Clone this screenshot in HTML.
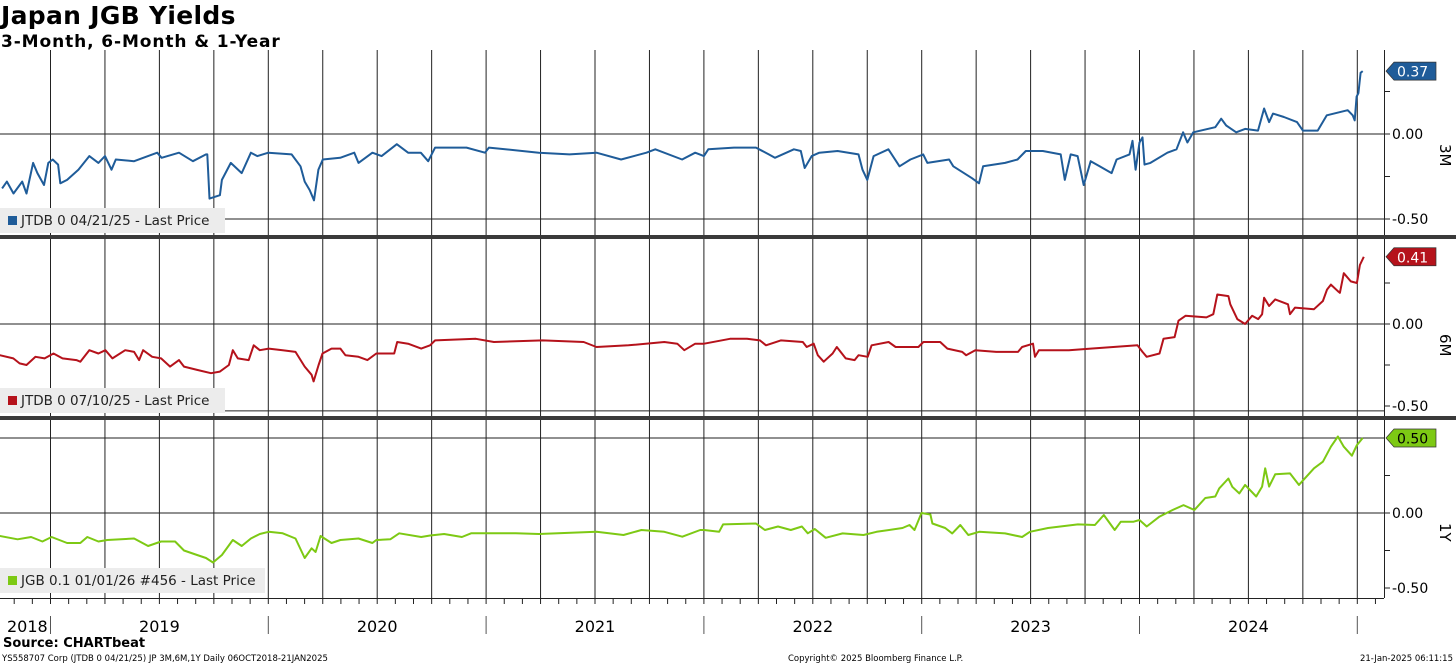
<!DOCTYPE html>
<html><head><meta charset="utf-8"><style>
html,body{margin:0;padding:0;background:#fff;}
body{width:1456px;height:665px;overflow:hidden;position:relative;font-family:"DejaVu Sans","Liberation Sans",sans-serif;}
#title{position:absolute;left:1px;top:1px;font-weight:bold;font-size:25px;letter-spacing:0.3px;}
#subtitle{position:absolute;left:1px;top:32px;font-weight:bold;font-size:17px;letter-spacing:0.9px;}
svg{position:absolute;left:0;top:0;}
</style></head><body>
<div id="title">Japan JGB Yields</div>
<div id="subtitle">3-Month, 6-Month &amp; 1-Year</div>
<svg id="chart" width="1456" height="665"></svg>
<script>
const yearLabels=["2018","2019","2020","2021","2022","2023","2024"];
const yTickLabels=["0.00","-0.50"];
const t3m=[2018.778,2018.80,2018.83,2018.87,2018.89,2018.92,2018.94,2018.97,2018.99,2019.01,2019.035,2019.045,2019.076,2019.128,2019.178,2019.22,2019.25,2019.28,2019.30,2019.384,2019.49,2019.51,2019.59,2019.654,2019.714,2019.72,2019.73,2019.778,2019.787,2019.828,2019.878,2019.92,2019.95,2020.00,2020.107,2020.148,2020.167,2020.19,2020.21,2020.23,2020.25,2020.33,2020.395,2020.414,2020.478,2020.52,2020.59,2020.642,2020.70,2020.734,2020.766,2020.91,2020.995,2021.013,2021.242,2021.383,2021.507,2021.62,2021.736,2021.777,2021.90,2021.96,2022.00,2022.02,2022.138,2022.239,2022.298,2022.326,2022.413,2022.445,2022.463,2022.495,2022.53,2022.614,2022.71,2022.728,2022.75,2022.779,2022.847,2022.898,2022.948,2023.007,2023.026,2023.126,2023.145,2023.231,2023.263,2023.282,2023.383,2023.44,2023.478,2023.556,2023.638,2023.657,2023.684,2023.716,2023.744,2023.776,2023.817,2023.872,2023.895,2023.954,2023.968,2023.982,2024.00,2024.014,2024.023,2024.05,2024.128,2024.17,2024.20,2024.22,2024.247,2024.348,2024.375,2024.398,2024.444,2024.485,2024.544,2024.572,2024.595,2024.613,2024.663,2024.723,2024.75,2024.818,2024.86,2024.956,2024.979,2024.988,2024.997,2025.005,2025.015,2025.025];
const v3m=[-0.32,-0.28,-0.35,-0.28,-0.35,-0.17,-0.23,-0.30,-0.17,-0.15,-0.18,-0.29,-0.27,-0.21,-0.13,-0.17,-0.13,-0.21,-0.15,-0.16,-0.11,-0.14,-0.11,-0.16,-0.12,-0.12,-0.38,-0.36,-0.27,-0.17,-0.23,-0.11,-0.13,-0.11,-0.12,-0.19,-0.28,-0.33,-0.39,-0.21,-0.15,-0.14,-0.11,-0.17,-0.11,-0.13,-0.06,-0.11,-0.11,-0.16,-0.08,-0.08,-0.11,-0.08,-0.11,-0.12,-0.11,-0.15,-0.11,-0.09,-0.15,-0.11,-0.13,-0.09,-0.08,-0.08,-0.12,-0.14,-0.09,-0.10,-0.20,-0.13,-0.11,-0.10,-0.12,-0.21,-0.27,-0.13,-0.09,-0.19,-0.15,-0.12,-0.17,-0.15,-0.19,-0.26,-0.29,-0.19,-0.17,-0.15,-0.10,-0.10,-0.12,-0.27,-0.12,-0.13,-0.30,-0.16,-0.19,-0.23,-0.15,-0.12,-0.04,-0.21,-0.05,-0.02,-0.18,-0.17,-0.11,-0.09,0.01,-0.05,0.01,0.04,0.09,0.05,0.01,0.03,0.02,0.15,0.07,0.12,0.10,0.07,0.02,0.02,0.11,0.14,0.11,0.08,0.22,0.24,0.36,0.37];
const t6m=[2018.767,2018.829,2018.858,2018.89,2018.931,2018.973,2019.014,2019.055,2019.119,2019.137,2019.178,2019.22,2019.252,2019.284,2019.343,2019.384,2019.407,2019.425,2019.467,2019.508,2019.549,2019.59,2019.613,2019.673,2019.737,2019.778,2019.819,2019.837,2019.86,2019.91,2019.933,2019.961,2020.002,2020.066,2020.125,2020.167,2020.199,2020.208,2020.231,2020.249,2020.29,2020.331,2020.354,2020.414,2020.455,2020.496,2020.578,2020.592,2020.642,2020.702,2020.743,2020.766,2020.953,2021.036,2021.26,2021.448,2021.507,2021.654,2021.818,2021.878,2021.91,2021.96,2022.001,2022.12,2022.198,2022.257,2022.285,2022.353,2022.454,2022.472,2022.504,2022.523,2022.55,2022.591,2022.61,2022.651,2022.692,2022.71,2022.752,2022.77,2022.848,2022.88,2022.985,2023.008,2023.085,2023.118,2023.186,2023.204,2023.246,2023.342,2023.442,2023.461,2023.511,2023.52,2023.538,2023.676,2023.776,2023.991,2024.014,2024.033,2024.092,2024.11,2024.161,2024.179,2024.211,2024.307,2024.339,2024.357,2024.408,2024.417,2024.449,2024.485,2024.517,2024.545,2024.563,2024.572,2024.595,2024.623,2024.682,2024.691,2024.714,2024.801,2024.842,2024.861,2024.879,2024.911,2024.92,2024.938,2024.97,2024.998,2025.012,2025.03];
const v6m=[-0.19,-0.21,-0.24,-0.25,-0.20,-0.21,-0.18,-0.21,-0.22,-0.23,-0.16,-0.18,-0.16,-0.21,-0.16,-0.17,-0.22,-0.16,-0.20,-0.21,-0.26,-0.22,-0.26,-0.28,-0.30,-0.29,-0.25,-0.16,-0.21,-0.22,-0.13,-0.16,-0.15,-0.16,-0.17,-0.26,-0.31,-0.35,-0.25,-0.18,-0.15,-0.15,-0.19,-0.20,-0.22,-0.18,-0.18,-0.11,-0.12,-0.15,-0.13,-0.10,-0.09,-0.11,-0.10,-0.11,-0.14,-0.13,-0.11,-0.12,-0.16,-0.12,-0.12,-0.09,-0.09,-0.10,-0.13,-0.10,-0.11,-0.14,-0.12,-0.19,-0.23,-0.18,-0.14,-0.21,-0.22,-0.19,-0.20,-0.13,-0.11,-0.14,-0.14,-0.11,-0.11,-0.15,-0.17,-0.19,-0.16,-0.17,-0.17,-0.14,-0.12,-0.20,-0.16,-0.16,-0.15,-0.13,-0.17,-0.20,-0.18,-0.09,-0.08,0.02,0.05,0.04,0.06,0.18,0.17,0.12,0.03,0.00,0.05,0.03,0.06,0.16,0.11,0.15,0.12,0.06,0.10,0.09,0.14,0.21,0.24,0.20,0.19,0.31,0.26,0.25,0.36,0.41];
const t1y=[2018.767,2018.849,2018.911,2018.963,2019.005,2019.076,2019.137,2019.169,2019.22,2019.261,2019.384,2019.448,2019.508,2019.572,2019.613,2019.673,2019.714,2019.746,2019.787,2019.837,2019.878,2019.92,2019.961,2020.002,2020.066,2020.125,2020.167,2020.199,2020.217,2020.24,2020.29,2020.331,2020.414,2020.478,2020.496,2020.56,2020.601,2020.702,2020.743,2020.807,2020.889,2020.931,2021.036,2021.137,2021.242,2021.507,2021.631,2021.713,2021.818,2021.901,2021.983,2022.001,2022.07,2022.088,2022.239,2022.28,2022.34,2022.399,2022.45,2022.477,2022.509,2022.559,2022.637,2022.733,2022.793,2022.912,2022.944,2022.967,2022.999,2023.04,2023.049,2023.108,2023.14,2023.177,2023.214,2023.264,2023.383,2023.461,2023.497,2023.58,2023.717,2023.795,2023.836,2023.886,2023.914,2023.973,2024.0,2024.033,2024.092,2024.152,2024.202,2024.252,2024.302,2024.348,2024.366,2024.408,2024.426,2024.458,2024.485,2024.536,2024.563,2024.577,2024.595,2024.623,2024.691,2024.732,2024.801,2024.842,2024.879,2024.911,2024.938,2024.975,2024.998,2025.025];
const v1y=[-0.153,-0.175,-0.16,-0.19,-0.16,-0.20,-0.20,-0.16,-0.19,-0.18,-0.17,-0.22,-0.19,-0.19,-0.25,-0.28,-0.30,-0.33,-0.28,-0.18,-0.22,-0.17,-0.14,-0.125,-0.135,-0.17,-0.30,-0.235,-0.26,-0.153,-0.20,-0.18,-0.17,-0.20,-0.18,-0.175,-0.135,-0.16,-0.15,-0.14,-0.16,-0.135,-0.135,-0.135,-0.14,-0.125,-0.147,-0.113,-0.125,-0.158,-0.113,-0.113,-0.125,-0.076,-0.07,-0.113,-0.09,-0.113,-0.09,-0.135,-0.107,-0.165,-0.136,-0.147,-0.125,-0.10,-0.08,-0.113,0.0,-0.01,-0.07,-0.10,-0.136,-0.08,-0.147,-0.125,-0.136,-0.16,-0.125,-0.10,-0.076,-0.08,-0.013,-0.113,-0.058,-0.058,-0.047,-0.09,-0.024,0.02,0.053,0.02,0.10,0.11,0.164,0.23,0.175,0.131,0.187,0.11,0.176,0.298,0.176,0.258,0.264,0.187,0.298,0.342,0.442,0.51,0.442,0.382,0.453,0.50];

const NS="http://www.w3.org/2000/svg";
const svg=document.getElementById('chart');
function X(t){return 50.5+(t-2019)*217.8;}
const panels=[
 {y0:134,k:170,top:50,bot:235,t:t3m,v:v3m,color:"#1f5c99",tag:"0.37",label:"3M",legend:"JTDB 0 04/21/25 - Last Price",lw:225,ly:208,grid:[0,-0.5],name:"3m"},
 {y0:324,k:164,top:239,bot:416,t:t6m,v:v6m,color:"#b5121b",tag:"0.41",label:"6M",legend:"JTDB 0 07/10/25 - Last Price",lw:225,ly:388,grid:[0,-0.53],name:"6m"},
 {y0:513,k:150,top:420,bot:598,t:t1y,v:v1y,color:"#7dc914",tag:"0.50",label:"1Y",legend:"JGB 0.1 01/01/26 #456 - Last Price",lw:265,ly:568,grid:[0.5,0],name:"1y"}
];
function el(tag,attrs,parent){const e=document.createElementNS(NS,tag);for(const k in attrs)e.setAttribute(k,attrs[k]);(parent||svg).appendChild(e);return e;}
for(let q=0;q<=24;q++){const x=X(2019+q*0.25);
 for(const p of panels){const l=el('line',{x1:x,x2:x,y1:p.top,y2:p.bot,stroke:"#222","stroke-width":1});
 
 }}
panels.forEach(p=>{
 const g=el('g',{});
 
 
 const Y=v=>p.y0-v*p.k;
 p.grid.forEach(v=>{const l=el('line',{x1:0,x2:1384,y1:Y(v),y2:Y(v),stroke:"#222","stroke-width":1},g);
  
  });
 const ax=el('line',{x1:1384.5,x2:1384.5,y1:p.top,y2:p.bot,stroke:"#222","stroke-width":1},g);
 
 
 [0.25,0,-0.25,-0.5].forEach(v=>{const yy=Y(v);if(yy<p.top||yy>p.bot+2)return;
  const tk=el('line',{x1:1384,x2:1390,y1:yy,y2:yy,stroke:"#222"},g);
  
  });
 yTickLabels.forEach(s=>{const v=parseFloat(s);const tx=el('text',{x:1392,y:Y(v)+5,"font-size":14,fill:"#000"},g);
  tx.textContent=s;
  
  });
 let d="";p.t.forEach((t,i)=>{d+=(i?"L":"M")+X(t).toFixed(1)+" "+Y(p.v[i]).toFixed(1);});
 const path=el('path',{d:d,fill:"none",stroke:p.color,"stroke-width":2,"stroke-linejoin":"round"},g);
 
 
 const ty=Y(parseFloat(p.tag));
 const tg=el('path',{d:`M1386 ${ty} L1394 ${ty-9} L1436 ${ty-9} L1436 ${ty+9} L1394 ${ty+9} Z`,fill:p.color,stroke:"#333","stroke-width":0.7},g);
 
 
 const tt=el('text',{x:1397,y:ty+5.5,"font-size":14,fill:p.name==="1y"?"#000":"#fff"},g);
 tt.textContent=p.tag;
 
 
 const ly=Y(0)+10;
 const lb=el('text',{x:1440,y:ly,"font-size":15,fill:"#000",transform:`rotate(90 1440 ${ly})`},g);
 lb.textContent=p.label;
 
 
 const lr=el('rect',{x:0,y:p.ly,width:p.lw,height:25,fill:"#ececec"},g);
 
 
 const sq=el('rect',{x:8,y:p.ly+8,width:9,height:9,fill:p.color},g);
 
 
 const lt=el('text',{x:21,y:p.ly+17,"font-size":13.5,fill:"#222"},g);
 lt.textContent=p.legend;
 
 
});
[237,418].forEach(y=>{const r=el('rect',{x:0,y:y-2,width:1456,height:4,fill:"#3a3a3a"});
 
 });
const bx=el('line',{x1:0,x2:1384,y1:598.5,y2:598.5,stroke:"#222"});


for(let m=-2;m<=73;m++){const x=X(2019+m/12);if(x<0||x>1384)continue;
 const tk=el('line',{x1:x,x2:x,y1:598,y2:604,stroke:"#222"});
 
 }
yearLabels.forEach((s,i)=>{const yr=parseInt(s);
 const a=Math.max(0,X(yr)),b=Math.min(1384,X(yr+1));
 if(i>0){const sp=el('line',{x1:X(yr),x2:X(yr),y1:616,y2:634,stroke:"#555"});
  
  }
 const tx=el('text',{x:i===0?7:(a+b)/2,y:632,"font-size":16,"text-anchor":i===0?"start":"middle",fill:"#000"});
 tx.textContent=s;
 
 });
const ls=el('line',{x1:X(2025),x2:X(2025),y1:616,y2:634,stroke:"#555"});


const src=el('text',{x:3,y:647,"font-size":13,"font-weight":"bold",fill:"#000"});
src.textContent="Source: CHARTbeat";


const f1=el('text',{x:2,y:661,"font-size":8.5,fill:"#000"});
f1.textContent="YS558707 Corp (JTDB 0 04/21/25) JP 3M,6M,1Y  Daily 06OCT2018-21JAN2025";


const f2=el('text',{x:788,y:661,"font-size":8.5,fill:"#000"});
f2.textContent="Copyright\u00a9 2025 Bloomberg Finance L.P.";


const f3=el('text',{x:1453,y:661,"font-size":8.5,fill:"#000","text-anchor":"end"});
f3.textContent="21-Jan-2025 06:11:15";


</script>
</body></html>
